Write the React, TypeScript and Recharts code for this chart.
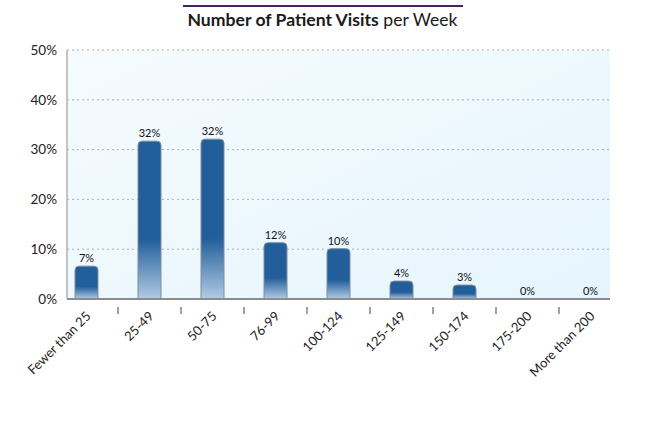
import React from "react";
import { BarChart, Bar, XAxis, YAxis, CartesianGrid, Rectangle } from "recharts";

const categories = [
  "Fewer than 25",
  "25-49",
  "50-75",
  "76-99",
  "100-124",
  "125-149",
  "150-174",
  "175-200",
  "More than 200",
];
const visitShares = [6.6, 31.7, 32.1, 11.3, 10.1, 3.6, 2.8, 0, 0];
const shareLabels = ["7%", "32%", "32%", "12%", "10%", "4%", "3%", "0%", "0%"];
const yTicks = [0, 10, 20, 30, 40, 50];

const data = categories.map((c, i) => ({ name: c, value: visitShares[i], label: shareLabels[i] }));

const FONT = "Lato, 'Open Sans', sans-serif";
const W = 645;
const H = 439;
const PLOT_LEFT = 67;
const PLOT_RIGHT_MARGIN = 35;
const PAD = -12;
const BAND = (W - PLOT_LEFT - PLOT_RIGHT_MARGIN - 2 * PAD) / categories.length;

const XTick = (props: any) => {
  const { x, y, payload, index } = props;
  return (
    <g transform={`translate(${x},${y})`}>
      {index < categories.length - 1 && (
        <line x1={BAND / 2} x2={BAND / 2} y1={0} y2={7} stroke="#444" strokeWidth={1} />
      )}
      <text
        x={5}
        y={10}
        transform="rotate(-45 5 10)"
        textAnchor="end"
        fontSize={13}
        fontFamily={FONT}
        fill="#222"
      >
        {payload.value}
      </text>
    </g>
  );
};

const BarShape = (props: any) => {
  const { x, y, width, height, payload } = props;
  return (
    <g>
      {height > 0 && (
        <Rectangle
          x={x}
          y={y}
          width={width}
          height={height}
          radius={[4, 4, 0, 0]}
          fill="url(#barGrad)"
          stroke="#7d8ea0"
          strokeWidth={1}
        />
      )}
      <text
        x={x + width / 2}
        y={y - 4}
        textAnchor="middle"
        fontSize={11}
        fontFamily={FONT}
        fill="#111"
      >
        {payload.label}
      </text>
    </g>
  );
};

export default function App() {
  return (
    <div style={{ position: "absolute", left: 0, top: 0, width: W, height: H, background: "#fff" }}>
      <svg width={0} height={0} style={{ position: "absolute" }}>
        <defs>
          <linearGradient id="barGrad" x1="0" y1="0" x2="0" y2="1">
            <stop offset="0" stopColor="#225e9a" />
            <stop offset="0.62" stopColor="#225e9a" />
            <stop offset="1" stopColor="#b2cae4" />
          </linearGradient>
          <linearGradient id="bgGrad" x1="0" y1="0" x2="1" y2="1">
            <stop offset="0" stopColor="#f5fbfe" />
            <stop offset="1" stopColor="#e6f5fd" />
          </linearGradient>
        </defs>
      </svg>
      <div
        style={{
          position: "absolute",
          left: 183,
          top: 5,
          width: 280,
          height: 0,
          borderTop: "2px solid #4a1f5c",
        }}
      />
      <div
        style={{
          position: "absolute",
          left: 0,
          width: W,
          top: 8,
          textAlign: "center",
          fontFamily: FONT,
          fontSize: 17.6,
          color: "#1a1a1a",
          lineHeight: "24px",
        }}
      >
        <span style={{ fontWeight: 700 }}>Number of Patient Visits</span> per Week
      </div>
      <BarChart
        width={W}
        height={H}
        data={data}
        margin={{ top: 50, right: PLOT_RIGHT_MARGIN, left: 0, bottom: 0 }}
        style={{ position: "absolute", left: 0, top: 0 }}
      >
        <CartesianGrid
          vertical={false}
          stroke="#b0b0b0"
          strokeDasharray="2 3"
          fill="url(#bgGrad)"
        />
        <XAxis
          dataKey="name"
          height={140}
          interval={0}
          padding={{ left: PAD, right: PAD }}
          tickLine={false}
          axisLine={{ stroke: "#8c8c8c", strokeWidth: 2 }}
          tick={<XTick />}
        />
        <YAxis
          width={PLOT_LEFT}
          domain={[0, 50]}
          ticks={yTicks}
          tickFormatter={(v: number) => `${v}%`}
          tickLine={false}
          tickSize={0}
          tickMargin={10}
          axisLine={{ stroke: "#b0b0b0", strokeWidth: 1.5 }}
          tick={{ fontSize: 13.5, fontFamily: FONT, fill: "#222" }}
        />
        <Bar
          dataKey="value"
          barSize={23}
          fill="url(#barGrad)"
          shape={<BarShape />}
          isAnimationActive={false}
        />
      </BarChart>
    </div>
  );
}
